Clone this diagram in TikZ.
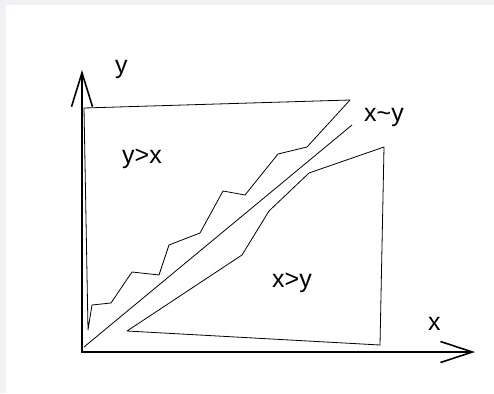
\documentclass[tikz,border=0pt]{standalone}
\usepackage{fontspec}
\setmainfont{Liberation Sans}
\usepackage{tikz}
\usetikzlibrary{arrows.meta}
\definecolor{pagegray}{HTML}{F0F0F5}

\begin{document}
\begin{tikzpicture}[x=1pt, y=-1pt,
  axis/.style={line width=2.2pt,
    {Straight Barb[length=34pt, width=21pt, line width=1.6pt]}-{Straight Barb[length=32pt, width=21pt, line width=1.6pt]}},
  region/.style={line width=0.8pt, line join=round},
  lbl/.style={anchor=base west, inner sep=0pt, font=\fontsize{25}{30}\selectfont}]

  % page and frame
  \fill[pagegray] (0,0) rectangle (494,393);
  \fill[white] (6,5) rectangle (494,393);
  \useasboundingbox (0,0) rectangle (494,393);

  % axes
  \coordinate (O) at (82,352);
  \coordinate (ytop) at (82,70);
  \coordinate (xend) at (475,352);
  \draw[axis] (ytop) -- (O) -- (xend);

  % region above the diagonal
  \draw[region] (84,108) -- (350,100) -- (307,147) -- (278,154) -- (245,195)
    -- (223,191) -- (200,233) -- (169,245) -- (159,275) -- (132,272)
    -- (111,303) -- (92,305) -- (88,330) -- cycle;

  % region below the diagonal
  \draw[region] (127,331) -- (242,255) -- (269,211) -- (309,173) -- (384,147)
    -- (380,345) -- cycle;

  % diagonal
  \coordinate (dlow) at (84,347);
  \coordinate (dhigh) at (352,125);
  \draw[region] (dlow) -- (dhigh);

  % labels
  \foreach \nm/\px/\py/\txt in {
    ylab/115/74/y, xlab/428/330/x, yx/122/163/{y>x},
    xy/272/287/{x>y}, diag/364/121/{x\textasciitilde y}
  }
    \node[lbl] (\nm) at (\px,\py) {\txt};

\end{tikzpicture}
\end{document}
